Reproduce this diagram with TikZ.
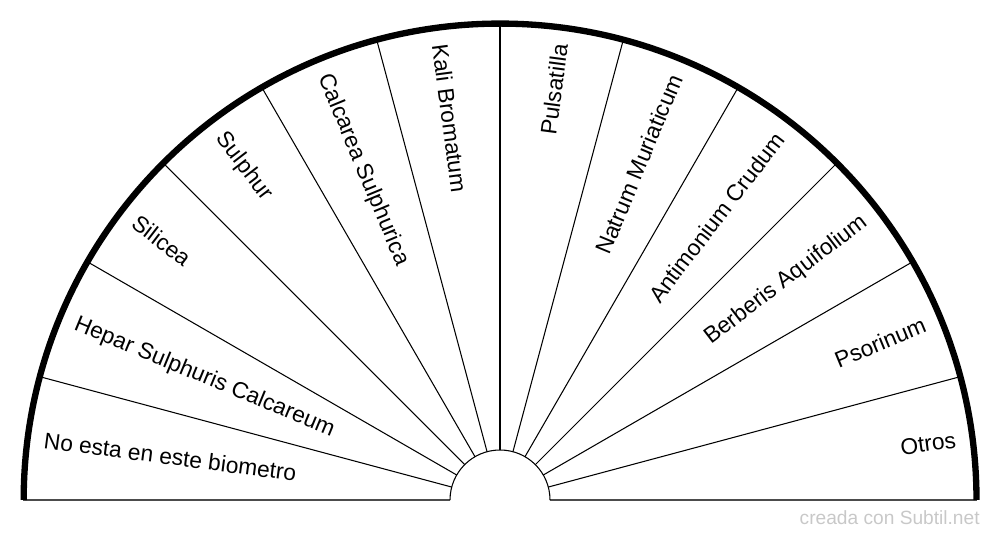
\documentclass[tikz,border=0pt]{standalone}
\usepackage{fontspec}
\usepackage{xcolor}
\setmainfont{Liberation Sans}
\definecolor{creditgray}{RGB}{200,200,200}

\begin{document}
\begin{tikzpicture}[x=0.02cm,y=0.02cm,
    remedy/.style={inner sep=0pt, font=\fontsize{12.95}{14}\selectfont},
    divider/.style={line width=0.6pt}]

\useasboundingbox (-500,-40) rectangle (500,500);

% Sector dividers
\foreach \a in {15,30,...,165}
    \draw[divider] (\a:50) -- (\a:476.5);

% Base line and inner half circle
\draw[divider, black!70] (-476.5,0) -- (-50,0);
\draw[divider, black!70] (50,0) -- (476.5,0);
\draw[divider] (50,0) arc[start angle=0, end angle=180, radius=1cm];

% Outer rim
\draw[line width=3.6pt] (476.5,0) arc[start angle=0, end angle=180, radius=9.53cm];

% Remedies on the left half
\foreach \txt/\a [count=\i] in {No esta en este biometro/172.5,
        Hepar Sulphuris Calcareum/157.5, Silicea/142.5, Sulphur/127.5,
        Calcarea Sulphurica/112.5, Kali Bromatum/97.5}
    \node[remedy, anchor=west, rotate=\a-180] (left\i) at (\a:460) {\txt};

% Remedies on the right half
\foreach \txt/\a [count=\i] in {Pulsatilla/82.5, Natrum Muriaticum/67.5,
        Antimonium Crudum/52.5, Berberis Aquifolium/37.5,
        Psorinum/22.5, Otros/7.5}
    \node[remedy, anchor=east, rotate=\a] (right\i) at (\a:460) {\txt};

% Credit
\node[anchor=east, inner sep=0pt, text=creditgray,
      font=\fontsize{10.9}{12}\selectfont] (credit) at (480,-18) {creada con Subtil.net};

\end{tikzpicture}
\end{document}
